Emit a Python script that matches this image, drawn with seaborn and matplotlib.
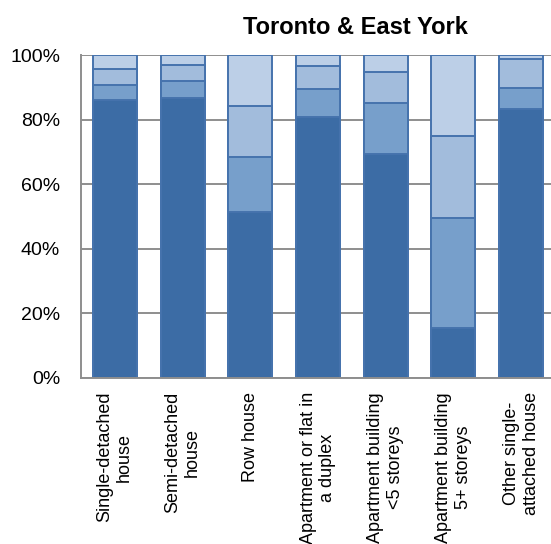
import numpy as np
import pandas as pd
import seaborn as sns
import matplotlib.pyplot as plt

categories = ['Single-detached\nhouse', 'Semi-detached\nhouse', 'Row house',
              'Apartment or flat in\na duplex', 'Apartment building\n<5 storeys',
              'Apartment building\n5+ storeys', 'Other single-\nattached house']
# share of each segment (%), bottom to top
seg1 = [86.1, 86.8, 51.5, 80.7, 69.3, 15.6, 83.2]
seg2 = [4.6, 5.1, 17.0, 8.8, 15.7, 33.8, 6.5]
seg3 = [5.0, 5.0, 15.7, 7.2, 9.8, 25.5, 9.0]
seg4 = [4.3, 3.1, 15.8, 3.3, 5.2, 25.1, 1.3]

colors = ['#3c6ca5', '#779fcb', '#a2bcdc', '#bccfe7']
edge = '#4673ad'
grid = '#8e8e8e'

sns.set_style('white')
plt.rcParams['font.family'] = ['Liberation Sans', 'DejaVu Sans']
plt.rcParams['text.color'] = 'black'
plt.rcParams['xtick.labelcolor'] = 'black'
plt.rcParams['ytick.labelcolor'] = 'black'

fig = plt.figure(figsize=(5.51, 5.44), dpi=100)
ax = fig.add_axes([81 / 551, 1 - 378 / 544, 470 / 551, 323 / 544])

df = pd.DataFrame({'cat': categories, 's1': seg1, 's2': seg2, 's3': seg3, 's4': seg4})
cum = df[['s1', 's2', 's3', 's4']].cumsum(axis=1)

# draw from the top layer down so lower layers cover higher ones
for col, c in zip(['s4', 's3', 's2', 's1'], colors[::-1]):
    sns.barplot(x=df['cat'], y=cum[col], color=c, saturation=1, width=0.65,
                edgecolor=edge, linewidth=1.4, ax=ax)

ax.set_ylim(0, 100)
ax.set_xlim(-0.5, 6.44)
ax.set_yticks([0, 20, 40, 60, 80, 100])
ax.set_yticklabels(['0%', '20%', '40%', '60%', '80%', '100%'], fontsize=14)
ax.yaxis.grid(True, color=grid, linewidth=1.4)
ax.set_axisbelow(True)
ax.set_xlabel('')
ax.set_ylabel('')

ax.set_xticks(range(len(categories)))
ax.set_xticklabels(categories, rotation=90, fontsize=13, va='top', ha='center',
                   multialignment='center', linespacing=1.2)
ax.set_xticks(np.arange(-0.5, 6.5, 1), minor=True)
ax.tick_params(axis='x', which='major', length=0, pad=10)
ax.tick_params(axis='x', which='minor', length=5, width=1.4, color=grid, direction='out')
ax.tick_params(axis='y', length=6, width=1.4, color=grid, direction='out', pad=9)

for s in ['top', 'right']:
    ax.spines[s].set_visible(False)
for s in ['left', 'bottom']:
    ax.spines[s].set_color(grid)
    ax.spines[s].set_linewidth(1.4)

fig.text(355 / 551, 1 - 27 / 544, 'Toronto & East York', ha='center', va='center',
         fontsize=17, fontweight='bold')

fig.savefig('out.png', dpi=100)
